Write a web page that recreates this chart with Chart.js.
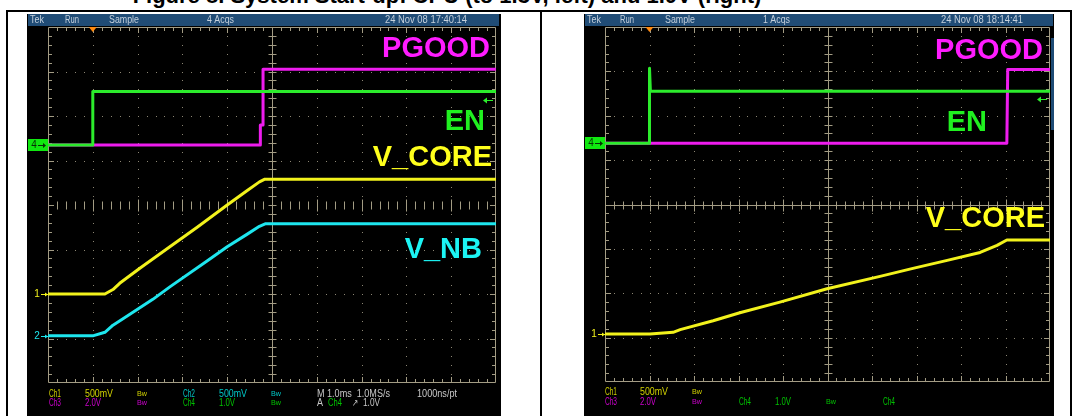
<!DOCTYPE html>
<html>
<head>
<meta charset="utf-8">
<script src="https://cdn.jsdelivr.net/npm/chart.js@4.4.1/dist/chart.umd.min.js"></script>
<style>
  html, body { margin: 0; padding: 0; background: #fff; width: 1078px; height: 416px; overflow: hidden; position: relative; }
  .rule { position: absolute; background: #000; }
  .scope { position: absolute; }
  #title { position: absolute; left: 0; width: 894px; text-align: center; top: -17px; line-height: 22px;
           font: bold 22px 'Liberation Sans', Arial, sans-serif; white-space: nowrap; color: #000; }
</style>
</head>
<body>
<div id="title">Figure 8. System Start-up: CPU (to 1.3V, left) and 1.0V (right)</div>
<div class="rule" style="left:6px;top:10px;width:1066px;height:2px"></div>
<div class="rule" style="left:6px;top:10px;width:2px;height:406px"></div>
<div class="rule" style="left:540px;top:10px;width:2px;height:406px"></div>
<div class="rule" style="left:1070px;top:10px;width:2px;height:406px"></div>
<div class="scope" style="left:27px;top:14px;width:474px;height:402px"><canvas id="scopeL" width="474" height="402"></canvas></div>
<div class="scope" style="left:584px;top:14px;width:470px;height:402px"><canvas id="scopeR" width="470" height="402"></canvas></div>

<script>
// ---- Channel settings (volts per division) ----
const voltsPerDiv = { ch1: 0.5, ch2: 0.5, ch3: 2.0, ch4: 1.0 };

// ---- Left capture: 1.0 ms/div, trigger on Ch4 rising, 1.0 V ----
const enTimeL    = [-1, 0, 0, 9];
const enVoltL    = [0, 0, 1.2, 1.2];
const pgoodTimeL = [-1, 3.74, 3.74, 3.8, 3.8, 9];
const pgoodVoltL = [0, 0, 0.9, 0.9, 3.4, 3.4];
const vcoreTimeL = [-1, 0.27, 0.45, 0.6, 1.05, 1.72, 2.33, 3.0, 3.44, 3.72, 3.84, 9];
const vcoreVoltL = [0, 0, 0.05, 0.12, 0.29, 0.53, 0.75, 1.0, 1.16, 1.26, 1.29, 1.29];
const vnbTimeL   = [-1, 0, 0.27, 0.45, 0.7, 1.34, 1.72, 2.55, 3.0, 3.44, 3.72, 3.86, 9];
const vnbVoltL   = [0, 0, 0.04, 0.12, 0.2, 0.41, 0.55, 0.84, 1.0, 1.14, 1.23, 1.26, 1.26];

// ---- Right capture (time in divisions) ----
const enTimeR    = [-1, 0, 0, 0.02, 9];
const enVoltR    = [0, 0, 1.69, 1.17, 1.17];
const pgoodTimeR = [-1, 8.03, 8.05, 9];
const pgoodVoltR = [0, 0, 3.33, 3.33];
const vcoreTimeR = [-1, 0.01, 0.53, 0.69, 1.43, 2.03, 2.93, 3.99, 5.18, 5.92, 6.69, 7.43, 7.81, 8.03, 9];
const vcoreVoltR = [0, 0, 0.02, 0.05, 0.15, 0.24, 0.36, 0.51, 0.65, 0.74, 0.83, 0.92, 1.0, 1.06, 1.06];

// ---- Screen texts ----
const headerL = ['Tek', 'Run', 'Sample', '4 Acqs', '24 Nov 08 17:40:14'];
const headerR = ['Tek', 'Run', 'Sample', '1 Acqs', '24 Nov 08 18:14:41'];
const triggerLevel = 1.0; // volts on Ch4

// ---- Colours ----
const COL = {
  yellow: '#f2f21c', cyan: '#1ee6ee', magenta: '#ee1cee', green: '#2cec2c',
  rdYellow: '#d2d200', rdCyan: '#00c8c8', rdMagenta: '#d000d0', rdGreen: '#00c400', rdWhite: '#c8c8c8',
  grid: '#a39c84', dots: '#8c8674', header: '#204c76', headerText: '#c4d0dc', trig: '#ff8a10'
};

const zip = (t, v) => t.map((x, i) => ({ x, y: v[i] }));
const FONT = "'Liberation Sans', Arial, sans-serif";

function trace(label, t, v, axis, color) {
  return { label, data: zip(t, v), yAxisID: axis, borderColor: color, backgroundColor: color,
           borderWidth: 3, pointRadius: 0, fill: false, tension: 0, borderJoinStyle: 'round' };
}

// Tek style graticule: dotted divisions, tick marks on edges and centre axes
function drawGraticule(chart, solidCenterH) {
  const { ctx, chartArea: a, scales: { x, div } } = chart;
  const X = t => Math.round(x.getPixelForValue(t));
  const Y = d => Math.round(div.getPixelForValue(d));
  ctx.save();
  ctx.fillStyle = COL.dots;
  for (let t = 0; t <= 8; t++) {               // vertical dotted lines
    if (t === 4) continue;
    const px = X(t);
    for (let k = 1; k < 40; k++) ctx.fillRect(px, Y(k * 0.2), 1, 1);
  }
  for (let j = 1; j <= 7; j++) {               // horizontal dotted lines
    if (j === 4) continue;
    const py = Y(j);
    for (let m = 1; m < 50; m++) ctx.fillRect(X(-1 + m * 0.2), py, 1, 1);
  }
  ctx.strokeStyle = COL.grid;
  ctx.lineWidth = 1;
  ctx.beginPath();
  ctx.rect(a.left + 0.5, a.top + 0.5, a.right - a.left - 1, a.bottom - a.top - 1);
  const cx = X(4) + 0.5, cy = Y(4) + 0.5;
  ctx.moveTo(cx, a.top); ctx.lineTo(cx, a.bottom);
  if (solidCenterH) { ctx.moveTo(a.left, cy); ctx.lineTo(a.right, cy); }
  for (let m = 1; m < 50; m++) {
    const px = X(-1 + m * 0.2) + 0.5;
    const major = m % 5 === 0;
    ctx.moveTo(px, a.top); ctx.lineTo(px, a.top + (major ? 6 : 4));
    ctx.moveTo(px, a.bottom); ctx.lineTo(px, a.bottom - (major ? 6 : 4));
    const h = major ? 6 : 4;
    ctx.moveTo(px, cy - h); ctx.lineTo(px, cy + h);
  }
  for (let k = 1; k < 40; k++) {
    const py = Y(k * 0.2) + 0.5;
    const major = k % 5 === 0;
    ctx.moveTo(a.left, py); ctx.lineTo(a.left + (major ? 6 : 4), py);
    ctx.moveTo(a.right, py); ctx.lineTo(a.right - (major ? 6 : 4), py);
    ctx.moveTo(cx - 4, py); ctx.lineTo(cx + 4, py);
  }
  ctx.stroke();
  ctx.restore();
}

function makeScope(id, cfg) {
  const scales = {
    x: { type: 'linear', axis: 'x', min: -1, max: 9, display: false },
    div: { type: 'linear', axis: 'y', position: 'left', min: 0, max: 8, display: false }
  };
  for (const ch of Object.keys(voltsPerDiv)) {
    const g = cfg.ground[ch], v = voltsPerDiv[ch];
    scales[ch] = { type: 'linear', axis: 'y', position: 'left', display: false, min: -g * v, max: (8 - g) * v };
  }

  const screenPlugin = {
    id: 'screen',
    beforeDraw(chart) {
      const { ctx, width, height } = chart;
      ctx.save();
      ctx.fillStyle = '#000';
      ctx.fillRect(0, 0, width, height);
      ctx.fillStyle = COL.header;
      ctx.fillRect(1, 0, cfg.headerWidth, 12);
      if (cfg.sideStrip) { ctx.fillRect(cfg.sideStrip[0], cfg.sideStrip[1], cfg.sideStrip[2], cfg.sideStrip[3]); }
      ctx.fillStyle = COL.headerText;
      ctx.font = '10px ' + FONT;
      ctx.textBaseline = 'middle';
      cfg.header.forEach((txt, i) => {
        const [hx, hw] = cfg.headerPos[i];
        ctx.fillText(txt, hx, 6.5, hw);
      });
      ctx.restore();
    },
    beforeDatasetsDraw(chart) { drawGraticule(chart, cfg.solidCenterH); },
    afterDatasetsDraw(chart) {
      const { ctx, chartArea: a, scales: s } = chart;
      ctx.save();
      // trigger position marker
      const tx = s.x.getPixelForValue(0);
      ctx.fillStyle = COL.trig;
      ctx.beginPath();
      ctx.moveTo(tx - 4, a.top); ctx.lineTo(tx + 4, a.top); ctx.lineTo(tx, a.top + 5); ctx.closePath();
      ctx.fill();
      // trigger level arrow (Ch4)
      const ty = Math.round(s.ch4.getPixelForValue(triggerLevel)) + 0.5;
      ctx.strokeStyle = COL.green; ctx.fillStyle = COL.green; ctx.lineWidth = 1;
      ctx.beginPath(); ctx.moveTo(a.right - 12, ty); ctx.lineTo(a.right - 3, ty); ctx.stroke();
      ctx.beginPath(); ctx.moveTo(a.right - 13, ty); ctx.lineTo(a.right - 9, ty - 3); ctx.lineTo(a.right - 9, ty + 3); ctx.closePath(); ctx.fill();
      // ground markers
      const g4 = Math.round(s.ch4.getPixelForValue(0));
      ctx.fillStyle = '#10e810';
      ctx.fillRect(1, g4 - 6, 20, 12);
      ctx.fillStyle = '#063006'; ctx.strokeStyle = '#063006';
      ctx.font = '10px ' + FONT; ctx.textBaseline = 'middle'; ctx.textAlign = 'center';
      ctx.fillText('4', 7, g4 + 0.5);
      ctx.beginPath(); ctx.moveTo(11, g4 + 0.5); ctx.lineTo(18, g4 + 0.5); ctx.stroke();
      ctx.beginPath(); ctx.moveTo(19, g4 + 0.5); ctx.lineTo(16, g4 - 2); ctx.lineTo(16, g4 + 3); ctx.closePath(); ctx.fill();
      cfg.markers.forEach(([ch, label, color]) => {
        const gy = Math.round(s[ch].getPixelForValue(0)) + 0.5;
        ctx.fillStyle = color; ctx.strokeStyle = color;
        ctx.fillText(label, 10, gy);
        ctx.beginPath(); ctx.moveTo(14, gy); ctx.lineTo(a.left, gy); ctx.stroke();
        ctx.beginPath(); ctx.moveTo(a.left, gy); ctx.lineTo(a.left - 3, gy - 2); ctx.lineTo(a.left - 3, gy + 2); ctx.closePath(); ctx.fill();
      });
      // signal names
      ctx.font = 'bold 29px ' + FONT;
      ctx.textAlign = 'right'; ctx.textBaseline = 'alphabetic';
      cfg.names.forEach(([txt, nx, ny, color]) => { ctx.fillStyle = color; ctx.fillText(txt, nx, ny); });
      // readout
      ctx.textAlign = 'left'; ctx.textBaseline = 'middle';
      cfg.readout.forEach(([txt, rx, row, color, w]) => {
        ctx.fillStyle = color;
        ctx.font = (txt === 'Bw' ? '8px ' : '10px ') + FONT;
        ctx.fillText(txt, rx, cfg.rows[row], w);
      });
      ctx.restore();
    }
  };

  return new Chart(document.getElementById(id), {
    type: 'line',
    data: { datasets: cfg.datasets },
    options: {
      responsive: false, animation: false, devicePixelRatio: 1,
      layout: { padding: cfg.padding },
      scales,
      plugins: { legend: { display: false }, tooltip: { enabled: false } },
      events: []
    },
    plugins: [screenPlugin]
  });
}

makeScope('scopeL', {
  ground: { ch1: 2.0, ch2: 1.06, ch3: 5.35, ch4: 5.35 },
  padding: { left: 21, right: 5, top: 13, bottom: 33 },
  solidCenterH: false,
  headerWidth: 471,
  header: headerL,
  headerPos: [[3, 14], [38, 14], [82, 30], [180, 27], [358, 82]],
  datasets: [
    trace('EN', enTimeL, enVoltL, 'ch4', COL.green),
    trace('PGOOD', pgoodTimeL, pgoodVoltL, 'ch3', COL.magenta),
    trace('V_NB', vnbTimeL, vnbVoltL, 'ch2', COL.cyan),
    trace('V_CORE', vcoreTimeL, vcoreVoltL, 'ch1', COL.yellow)
  ],
  markers: [['ch1', '1', COL.yellow], ['ch2', '2', COL.cyan]],
  names: [['PGOOD', 463, 43, '#ff1cff'], ['EN', 458, 116, '#20f020'], ['V_CORE', 465, 152, '#ffff1c'], ['V_NB', 455, 244, '#1cf4f4']],
  rows: [380, 389],
  readout: [
    ['Ch1', 22, 0, COL.rdYellow, 12], ['500mV', 58, 0, COL.rdYellow, 28], ['Bw', 110, 0, COL.rdYellow, 10],
    ['Ch2', 156, 0, COL.rdCyan, 12], ['500mV', 192, 0, COL.rdCyan, 28], ['Bw', 244, 0, COL.rdCyan, 10],
    ['M 1.0ms  1.0MS/s', 290, 0, COL.rdWhite, 73], ['1000ns/pt', 390, 0, COL.rdWhite, 40],
    ['Ch3', 22, 1, COL.rdMagenta, 12], ['2.0V', 58, 1, COL.rdMagenta, 16], ['Bw', 110, 1, COL.rdMagenta, 10],
    ['Ch4', 156, 1, COL.rdGreen, 12], ['1.0V', 192, 1, COL.rdGreen, 16], ['Bw', 244, 1, COL.rdGreen, 10],
    ['A', 290, 1, COL.rdWhite, 6], ['Ch4', 301, 1, COL.rdGreen, 14], ['\u2197', 325, 1, COL.rdWhite, 6], ['1.0V', 336, 1, COL.rdWhite, 17]
  ]
});

makeScope('scopeR', {
  ground: { ch1: 1.08, ch2: 1.06, ch3: 5.38, ch4: 5.38 },
  padding: { left: 21, right: 4, top: 13, bottom: 34 },
  solidCenterH: true,
  headerWidth: 468,
  sideStrip: [467, 24, 3, 92],
  header: headerR,
  headerPos: [[3, 14], [36, 14], [81, 30], [179, 27], [357, 82]],
  datasets: [
    trace('EN', enTimeR, enVoltR, 'ch4', COL.green),
    trace('PGOOD', pgoodTimeR, pgoodVoltR, 'ch3', COL.magenta),
    trace('V_CORE', vcoreTimeR, vcoreVoltR, 'ch1', COL.yellow)
  ],
  markers: [['ch1', '1', COL.yellow]],
  names: [['PGOOD', 459, 45, '#ff1cff'], ['EN', 403, 117, '#20f020'], ['V_CORE', 461, 213, '#ffff1c']],
  rows: [378, 388],
  readout: [
    ['Ch1', 21, 0, COL.rdYellow, 12], ['500mV', 56, 0, COL.rdYellow, 28], ['Bw', 108, 0, COL.rdYellow, 10],
    ['Ch3', 21, 1, COL.rdMagenta, 12], ['2.0V', 56, 1, COL.rdMagenta, 16], ['Bw', 108, 1, COL.rdMagenta, 10],
    ['Ch4', 155, 1, COL.rdGreen, 12], ['1.0V', 191, 1, COL.rdGreen, 16], ['Bw', 242, 1, COL.rdGreen, 10],
    ['Ch4', 299, 1, COL.rdGreen, 12]
  ]
});
</script>
</body>
</html>
